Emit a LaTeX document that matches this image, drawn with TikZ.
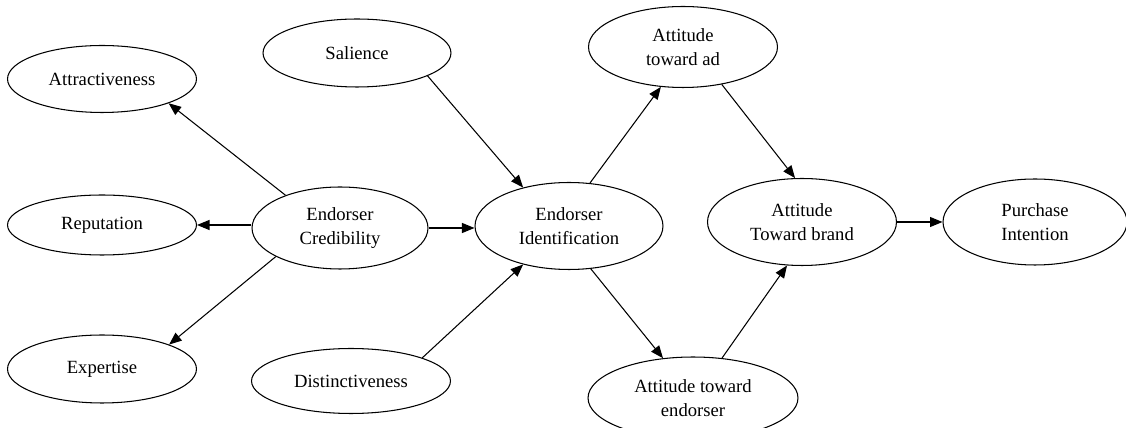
\documentclass[tikz,border=0pt]{standalone}
\usepackage{fontspec}
\setmainfont{Liberation Serif}
\usetikzlibrary{shapes.geometric,arrows.meta}
\begin{document}
\begin{tikzpicture}[x=0.02cm, y=-0.02cm,
    construct/.style={ellipse, draw, line width=0.6pt, inner sep=0pt, align=center,
        font=\fontsize{10.6}{13.4}\selectfont},
    link/.style={-{Triangle[length=0.25cm,width=0.2cm]}, line width=0.6pt}]
    \clip (0,0) rectangle (1126,428);
    \node[construct, minimum width=3.78cm, minimum height=1.34cm] (attr) at (102,79) {Attractiveness};
    \node[construct, minimum width=3.78cm, minimum height=1.2cm] (rep) at (102,225) {Reputation};
    \node[construct, minimum width=3.78cm, minimum height=1.36cm] (expe) at (102,369) {Expertise};
    \node[construct, minimum width=3.52cm, minimum height=1.64cm] (cred) at (340,228) {Endorser\\Credibility};
    \node[construct, minimum width=3.76cm, minimum height=1.36cm] (sal) at (357,53) {Salience};
    \node[construct, minimum width=3.98cm, minimum height=1.3cm] (dist) at (351,381) {Distinctiveness};
    \node[construct, minimum width=3.76cm, minimum height=1.74cm] (ident) at (569,226) {Endorser\\Identification};
    \node[construct, minimum width=3.78cm, minimum height=1.62cm] (tad) at (683,47) {Attitude\\toward ad};
    \node[construct, minimum width=4.2cm, minimum height=1.64cm] (tend) at (693,398) {Attitude toward\\endorser};
    \node[construct, minimum width=3.78cm, minimum height=1.74cm] (brand) at (802,222) {Attitude\\Toward brand};
    \node[construct, minimum width=3.68cm, minimum height=1.72cm] (purch) at (1035,222) {Purchase\\Intention};
    \draw[link] (cred.149) -- (attr.-20);
    \draw[link] (cred.west |- rep.east) -- (rep.east);
    \draw[link] (cred.204) -- (expe.20);
    \draw[link] (sal.-18) -- (ident.140);
    \draw[link] (cred.east) -- (cred.east -| ident.west);
    \draw[link] (dist.18) -- (ident.220);
    \draw[link] (ident.64) -- (tad.241);
    \draw[link] (tad.-44) -- (brand.99);
    \draw[link] (ident.-63) -- (tend.127);
    \draw[link] (tend.54) -- (brand.251);
    \draw[link] (brand.east) -- (brand.east -| purch.west);
\end{tikzpicture}
\end{document}
